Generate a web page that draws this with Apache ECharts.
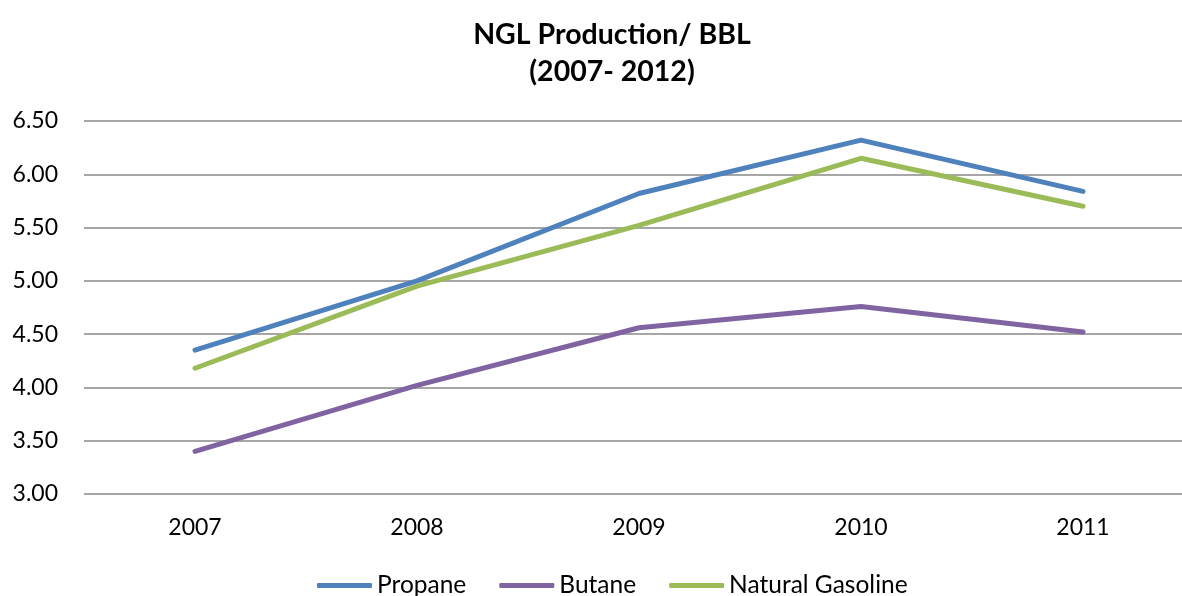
<!DOCTYPE html>
<html>
<head>
<meta charset="utf-8">
<script src="https://cdn.jsdelivr.net/npm/echarts@6/dist/echarts.min.js"></script>
<style>
  html, body { margin: 0; padding: 0; background: #fff; overflow: hidden; }
  #main { width: 1194px; height: 596px; }
</style>
</head>
<body>
<div id="main"></div>
<script>
// data
var years = ['2007', '2008', '2009', '2010', '2011'];
var propane = [4.35, 5.00, 5.82, 6.32, 5.84];
var butane = [3.40, 4.02, 4.56, 4.76, 4.52];
var naturalGasoline = [4.18, 4.95, 5.52, 6.15, 5.70];

var font = 'Lato, "Open Sans", sans-serif';

function lineSeries(name, data, color) {
  return {
    name: name,
    type: 'line',
    data: data,
    symbol: 'none',
    lineStyle: { width: 5, color: color, cap: 'round', join: 'round' },
    itemStyle: { color: color }
  };
}

var myChart = echarts.init(document.getElementById('main'));
var option = {
  animation: false,
  title: {
    text: 'NGL Production/ BBL\n(2007- 2012)',
    left: 607,
    textAlign: 'center',
    top: 11,
    textStyle: {
      fontFamily: font,
      fontSize: 28.5,
      fontWeight: 'bold',
      lineHeight: 37,
      color: '#000'
    }
  },
  legend: {
    bottom: -7,
    left: 312,
    icon: 'roundRect',
    itemWidth: 55,
    itemHeight: 5,
    itemGap: 33,
    textStyle: { fontFamily: font, fontSize: 24.5, color: '#000' },
    data: ['Propane', 'Butane', 'Natural Gasoline']
  },
  grid: {
    left: 84,
    top: 121,
    width: 1110,
    bottom: 102
  },
  xAxis: {
    type: 'category',
    data: years,
    boundaryGap: true,
    axisLine: { show: false },
    axisTick: { show: false },
    axisLabel: { fontFamily: font, fontSize: 23, color: '#000', margin: 22 }
  },
  yAxis: {
    type: 'value',
    min: 3,
    max: 6.5,
    interval: 0.5,
    axisLine: { show: false },
    axisTick: { show: false },
    axisLabel: {
      fontFamily: font, fontSize: 23, color: '#000', margin: 26,
      formatter: function (v) { return v.toFixed(2); }
    },
    splitLine: { lineStyle: { color: '#888', width: 1.5 } }
  },
  series: [
    lineSeries('Propane', propane, '#4F81BD'),
    lineSeries('Butane', butane, '#8064A2'),
    lineSeries('Natural Gasoline', naturalGasoline, '#9BBB59')
  ]
};
myChart.setOption(option);
</script>
</body>
</html>
